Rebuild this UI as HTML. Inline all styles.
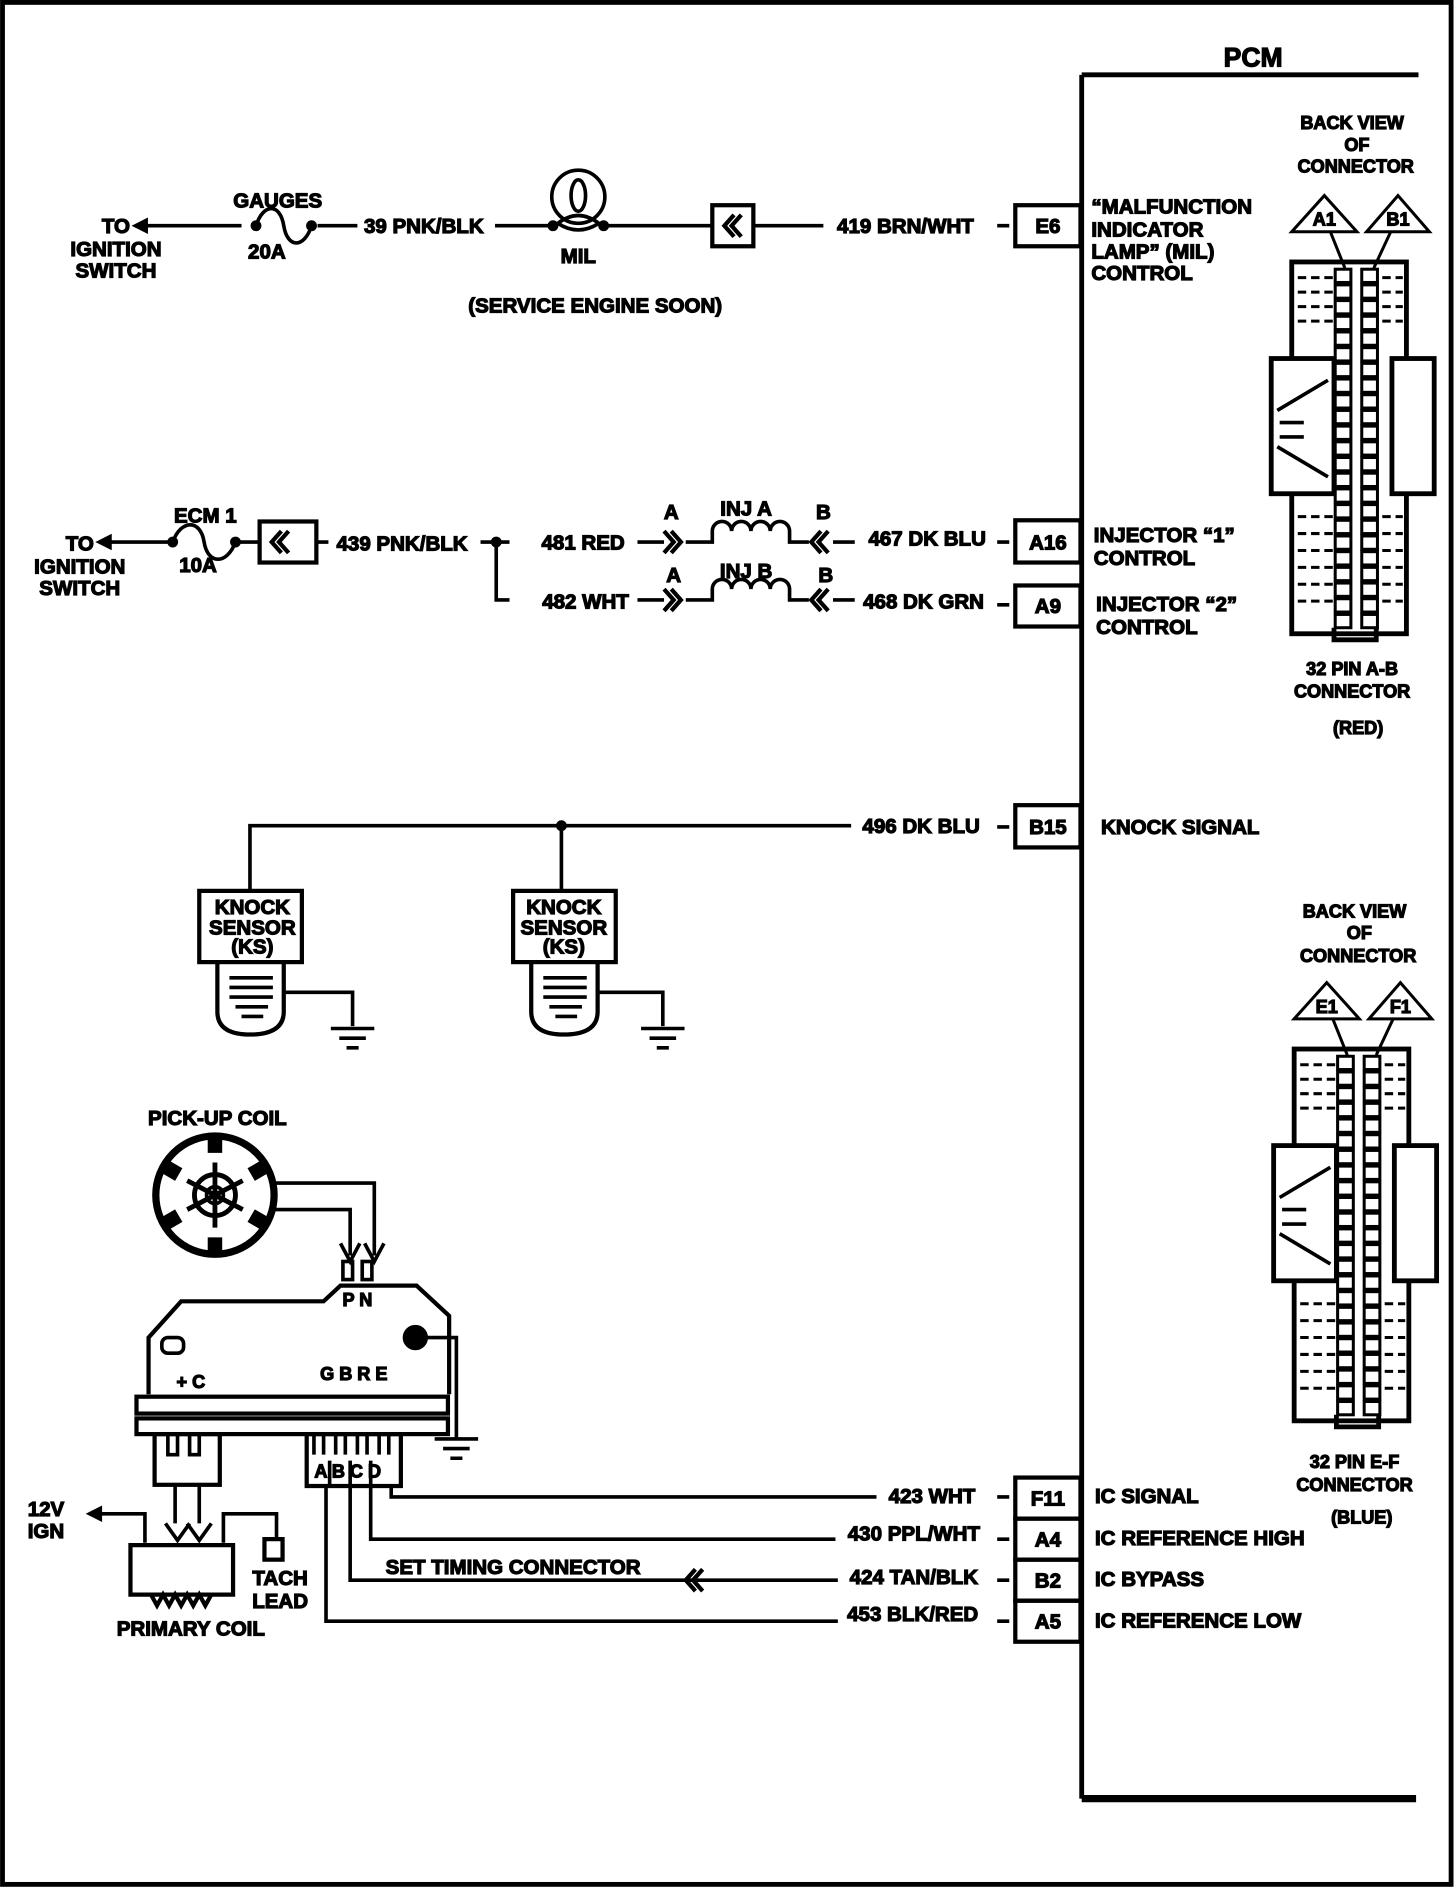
<!DOCTYPE html>
<html><head><meta charset="utf-8"><style>
html,body{margin:0;padding:0;background:#fff}
svg{display:block}
text{font-family:"Liberation Sans Narrow","Liberation Sans",sans-serif;font-weight:bold;fill:#000}
</style></head><body>
<svg width="1456" height="1888" viewBox="0 0 1206 1564" xmlns="http://www.w3.org/2000/svg">
<defs>
<g id="dbl"><path d="M0,-9 L8,0 L0,9 M6,-9 L14,0 L6,9" fill="none" stroke="#000" stroke-width="3.5"/></g>
<g id="dbll"><path d="M14,-9 L6,0 L14,9 M8,-9 L0,0 L8,9" fill="none" stroke="#000" stroke-width="3.5"/></g>
<g id="gnd"><path d="M-18,0 H18 M-11,8 H11 M-5,16 H5" stroke="#000" stroke-width="3"/></g>
</defs>
<rect x="2" y="2" width="1200" height="1559" fill="none" stroke="#000" stroke-width="4"/>
<g stroke="#000" fill="none">
<path d="M896,62 H1175 M896,62 V1490" stroke-width="4"/>
<path d="M896,1490 H1173" stroke-width="6"/>
<g stroke-width="3.5">
<rect x="841" y="170" width="54" height="34"/>
<rect x="841" y="431" width="54" height="35"/>
<rect x="841" y="485" width="54" height="34"/>
<rect x="841" y="667" width="54" height="35"/>
<rect x="841" y="1224" width="54" height="34"/>
<rect x="841" y="1258" width="54" height="34"/>
<rect x="841" y="1292" width="54" height="34"/>
<rect x="841" y="1326" width="54" height="34"/>
</g>
<g stroke-width="3">
<path d="M826,187 H836 M826,449 H836 M826,501 H836 M826,685 H836 M826,1240 H836 M826,1275 H836 M826,1309 H836 M826,1343 H836"/>
<path d="M118,187 H200 M263,187 H296 M410,187 H458 M500,187 H590 M624,187 H682"/>
<path d="M212,187 C218,168 232,168 235,187 C238,206 252,206 258,187"/>
<circle cx="479" cy="163" r="22"/>
<ellipse cx="479" cy="162" rx="6" ry="13"/>
<path d="M462,185 Q479,172 496,185 Q479,196 462,185"/>
<rect x="590" y="170" width="34" height="34" stroke-width="3.5"/>
<path d="M88,449 H143 M195,449 H215 M262,449 H272 M398,449 H422 M411,449 V497 H422 M528,449 H550 M528,497 H550"/>
<path d="M143,449 C150,430 166,430 169,449 C172,468 188,468 195,449"/>
<rect x="215" y="432" width="47" height="34" stroke-width="3.5"/>
<path d="M568,449 H590 V440 A8,8 0 0 1 606,440 A8,8 0 0 1 622,440 A8,8 0 0 1 638,440 A8,8 0 0 1 654,440 V449 H670 M690,449 H708"/>
<path d="M568,497 H590 V488 A8,8 0 0 1 606,488 A8,8 0 0 1 622,488 A8,8 0 0 1 638,488 A8,8 0 0 1 654,488 V497 H670 M690,497 H708"/>
<path d="M207,738 V684 H705 M465,684 V738"/>
<rect x="165" y="738" width="85" height="59" stroke-width="3.5"/>
<rect x="425" y="738" width="85" height="59" stroke-width="3.5"/>
<path d="M180,797 V838 Q180,857 207,857 Q235,857 235,838 V797" stroke-width="3.5"/>
<path d="M440,797 V838 Q440,857 467,857 Q495,857 495,838 V797" stroke-width="3.5"/>
<path d="M190,810 H226 M190,818 H226 M190,826 H226 M195,834 H222 M200,842 H218"/>
<path d="M450,810 H486 M450,818 H486 M450,826 H486 M455,834 H482 M460,842 H478"/>
<path d="M235,822 H292 V850 M495,822 H549 V850"/>
<circle cx="178" cy="990" r="49" stroke-width="6"/>
<g stroke-width="12">
<path d="M178,941 V955 M178,1025 V1039 M136,966 L148,973 M208,1007 L220,1014 M136,1014 L148,1007 M208,973 L220,966"/>
</g>
<circle cx="178" cy="990" r="7"/>
<circle cx="178" cy="990" r="17" stroke-width="4"/>
<path d="M178,963 V1017 M155,978 L201,1002 M155,1002 L201,978" stroke-width="4"/>
<path d="M228,980 H310 V1040 M228,1002 H290 V1040"/>
<path d="M282,1030 L290,1045 L298,1030 M302,1030 L310,1045 L318,1030"/>
<rect x="284" y="1045" width="8" height="15"/><rect x="300" y="1045" width="8" height="15"/>
<path d="M123,1155 V1108 L150,1078 H268 L282,1065 H345 L372,1090 V1155" stroke-width="3.5"/>
<rect x="134" y="1108" width="18" height="13" rx="5"/>
<circle cx="344" cy="1108" r="9" fill="#000"/>
<path d="M353,1108 H378 V1192"/>
<use href="#gnd" x="378" y="1192"/>
<rect x="113" y="1157" width="258" height="14" stroke-width="3.5"/>
<rect x="113" y="1175" width="258" height="13" stroke-width="3.5"/>
<rect x="128" y="1188" width="54" height="42" stroke-width="3.5"/>
<path d="M139,1188 V1205 H147 V1188 M157,1188 V1205 H165 V1188"/>
<rect x="254" y="1188" width="78" height="43" stroke-width="3.5"/>
<path d="M260,1188 V1205 M268,1188 V1205 M278,1188 V1205 M286,1188 V1205 M296,1188 V1205 M304,1188 V1205 M314,1188 V1205 M322,1188 V1205"/>
<path d="M273,1210 V1231 M290,1210 V1231 M307,1210 V1231"/>
<path d="M324,1231 V1240 H726 M307,1231 V1275 H692 M290,1231 V1309 H694 M270,1231 V1343 H694"/>
<path d="M145,1230 V1262 M165,1230 V1262"/>
<path d="M80,1254 H120 V1278 M185,1278 V1254 H229 V1275"/>
<path d="M108,1280 H193 V1321 H108 Z" stroke-width="3.5"/>
<path d="M125,1321 l5,9 l5,-9 l5,9 l5,-9 l5,9 l5,-9 l5,9 l5,-9 l5,9 l5,-9" stroke-width="3.5"/>
<path d="M137,1262 l10,14 l10,-14 M155,1262 l10,14 l10,-14"/>
<rect x="219" y="1275" width="15" height="17" stroke-width="3.5"/>
</g>
<path d="M110,187 L122,181 L122,193 Z" fill="#000"/>
<path d="M80,449 L92,443 L92,455 Z" fill="#000"/>
<path d="M72,1254 L84,1248 L84,1260 Z" fill="#000"/>
<circle cx="212" cy="187" r="4" fill="#000"/><circle cx="258" cy="187" r="4" fill="#000"/>
<circle cx="458" cy="187" r="4" fill="#000"/><circle cx="500" cy="187" r="4" fill="#000"/>
<circle cx="143" cy="449" r="4" fill="#000"/><circle cx="195" cy="449" r="4" fill="#000"/>
<circle cx="411" cy="449" r="4" fill="#000"/><circle cx="465" cy="684" r="4" fill="#000"/>
<use href="#dbll" x="600" y="187"/>
<use href="#dbll" x="225" y="449"/>
<use href="#dbl" x="550" y="449"/><use href="#dbl" x="550" y="497"/>
<use href="#dbll" x="672" y="449"/><use href="#dbll" x="672" y="497"/>
<use href="#dbll" x="568" y="1309"/>
<use href="#gnd" x="292" y="852"/><use href="#gnd" x="549" y="852"/>
<g id="conn1">
<path d="M1097,162 L1070,192 L1124,192 Z M1158,162 L1132,192 L1184,192 Z M1102,192 L1114,222 M1152,192 L1138,222" fill="none" stroke="#000" stroke-width="2.5"/>
<rect x="1070" y="217" width="95" height="308" fill="none" stroke="#000" stroke-width="4"/>
<rect x="1053" y="297" width="52" height="112" fill="#fff" stroke="#000" stroke-width="4"/>
<rect x="1153" y="297" width="35" height="112" fill="#fff" stroke="#000" stroke-width="4"/>
<path d="M1058,340 L1100,315 M1058,370 L1100,395 M1060,350 H1080 M1060,362 H1080" stroke="#000" stroke-width="3" fill="none"/>
<g fill="#fff" stroke="#000" stroke-width="2.5">
<path d="M1075,230 H1105 M1075,242 H1105 M1075,254 H1105 M1075,266 H1105 M1075,428 H1105 M1075,442 H1105 M1075,456 H1105 M1075,470 H1105 M1075,484 H1105 M1075,498 H1105 M1145,230 H1162 M1145,242 H1162 M1145,254 H1162 M1145,266 H1162 M1145,428 H1162 M1145,442 H1162 M1145,456 H1162 M1145,470 H1162 M1145,484 H1162 M1145,498 H1162" stroke-dasharray="7,4"/>
</g>
<g fill="#fff" stroke="#000" stroke-width="2.5">
<rect x="1106" y="223" width="13" height="11"/><rect x="1128" y="223" width="13" height="11"/>
<rect x="1106" y="236" width="13" height="11"/><rect x="1128" y="236" width="13" height="11"/>
<rect x="1106" y="249" width="13" height="11"/><rect x="1128" y="249" width="13" height="11"/>
<rect x="1106" y="262" width="13" height="11"/><rect x="1128" y="262" width="13" height="11"/>
<rect x="1106" y="275" width="13" height="11"/><rect x="1128" y="275" width="13" height="11"/>
<rect x="1106" y="288" width="13" height="11"/><rect x="1128" y="288" width="13" height="11"/>
<rect x="1106" y="301" width="13" height="11"/><rect x="1128" y="301" width="13" height="11"/>
<rect x="1106" y="314" width="13" height="11"/><rect x="1128" y="314" width="13" height="11"/>
<rect x="1106" y="327" width="13" height="11"/><rect x="1128" y="327" width="13" height="11"/>
<rect x="1106" y="340" width="13" height="11"/><rect x="1128" y="340" width="13" height="11"/>
<rect x="1106" y="353" width="13" height="11"/><rect x="1128" y="353" width="13" height="11"/>
<rect x="1106" y="366" width="13" height="11"/><rect x="1128" y="366" width="13" height="11"/>
<rect x="1106" y="379" width="13" height="11"/><rect x="1128" y="379" width="13" height="11"/>
<rect x="1106" y="392" width="13" height="11"/><rect x="1128" y="392" width="13" height="11"/>
<rect x="1106" y="405" width="13" height="11"/><rect x="1128" y="405" width="13" height="11"/>
<rect x="1106" y="418" width="13" height="11"/><rect x="1128" y="418" width="13" height="11"/>
<rect x="1106" y="431" width="13" height="11"/><rect x="1128" y="431" width="13" height="11"/>
<rect x="1106" y="444" width="13" height="11"/><rect x="1128" y="444" width="13" height="11"/>
<rect x="1106" y="457" width="13" height="11"/><rect x="1128" y="457" width="13" height="11"/>
<rect x="1106" y="470" width="13" height="11"/><rect x="1128" y="470" width="13" height="11"/>
<rect x="1106" y="483" width="13" height="11"/><rect x="1128" y="483" width="13" height="11"/>
<rect x="1106" y="496" width="13" height="11"/><rect x="1128" y="496" width="13" height="11"/>
<rect x="1106" y="509" width="13" height="11"/><rect x="1128" y="509" width="13" height="11"/>
</g>
<path d="M1105,520 V530 H1140 V520" fill="none" stroke="#000" stroke-width="4"/>
</g>
<use href="#conn1" x="2" y="652"/>
<g font-size="17">
<text x="1038" y="55" font-size="22" text-anchor="middle">PCM</text>
<text x="1120" y="107" font-size="15" text-anchor="middle">BACK VIEW</text>
<text x="1124" y="125" font-size="15" text-anchor="middle">OF</text>
<text x="1123" y="143" font-size="15" text-anchor="middle">CONNECTOR</text>
<text x="1097" y="187" font-size="15" text-anchor="middle">A1</text>
<text x="1158" y="187" font-size="15" text-anchor="middle">B1</text>
<text x="1120" y="559" font-size="15" text-anchor="middle">32 PIN A-B</text>
<text x="1120" y="578" font-size="15" text-anchor="middle">CONNECTOR</text>
<text x="1125" y="608" font-size="15" text-anchor="middle">(RED)</text>
<text x="1122" y="760" font-size="15" text-anchor="middle">BACK VIEW</text>
<text x="1126" y="778" font-size="15" text-anchor="middle">OF</text>
<text x="1125" y="797" font-size="15" text-anchor="middle">CONNECTOR</text>
<text x="1099" y="839" font-size="15" text-anchor="middle">E1</text>
<text x="1160" y="839" font-size="15" text-anchor="middle">F1</text>
<text x="1122" y="1216" font-size="15" text-anchor="middle">32 PIN E-F</text>
<text x="1122" y="1235" font-size="15" text-anchor="middle">CONNECTOR</text>
<text x="1128" y="1262" font-size="15" text-anchor="middle">(BLUE)</text>
<text x="868" y="193" text-anchor="middle">E6</text>
<text x="868" y="455" text-anchor="middle">A16</text>
<text x="868" y="508" text-anchor="middle">A9</text>
<text x="868" y="691" text-anchor="middle">B15</text>
<text x="868" y="1247" text-anchor="middle">F11</text>
<text x="868" y="1281" text-anchor="middle">A4</text>
<text x="868" y="1315" text-anchor="middle">B2</text>
<text x="868" y="1349" text-anchor="middle">A5</text>
<text x="904" y="177">“MALFUNCTION</text>
<text x="904" y="196">INDICATOR</text>
<text x="904" y="214">LAMP” (MIL)</text>
<text x="904" y="232">CONTROL</text>
<text x="906" y="449">INJECTOR “1”</text>
<text x="906" y="468">CONTROL</text>
<text x="908" y="506">INJECTOR “2”</text>
<text x="908" y="525">CONTROL</text>
<text x="912" y="691">KNOCK SIGNAL</text>
<text x="907" y="1245">IC SIGNAL</text>
<text x="907" y="1280">IC REFERENCE HIGH</text>
<text x="907" y="1314">IC BYPASS</text>
<text x="907" y="1348">IC REFERENCE LOW</text>
<text x="230" y="172" text-anchor="middle">GAUGES</text>
<text x="221" y="214" text-anchor="middle">20A</text>
<text x="96" y="193" text-anchor="middle">TO</text>
<text x="96" y="212" text-anchor="middle">IGNITION</text>
<text x="96" y="230" text-anchor="middle">SWITCH</text>
<text x="351" y="193" text-anchor="middle">39 PNK/BLK</text>
<text x="479" y="218" text-anchor="middle">MIL</text>
<text x="750" y="193" text-anchor="middle">419 BRN/WHT</text>
<text x="493" y="259" text-anchor="middle">(SERVICE ENGINE SOON)</text>
<text x="170" y="433" text-anchor="middle">ECM 1</text>
<text x="164" y="474" text-anchor="middle">10A</text>
<text x="66" y="456" text-anchor="middle">TO</text>
<text x="66" y="475" text-anchor="middle">IGNITION</text>
<text x="66" y="493" text-anchor="middle">SWITCH</text>
<text x="333" y="456" text-anchor="middle">439 PNK/BLK</text>
<text x="483" y="455" text-anchor="middle">481 RED</text>
<text x="485" y="504" text-anchor="middle">482 WHT</text>
<text x="556" y="430" text-anchor="middle">A</text>
<text x="618" y="427" text-anchor="middle">INJ A</text>
<text x="682" y="430" text-anchor="middle">B</text>
<text x="558" y="482" text-anchor="middle">A</text>
<text x="618" y="479" text-anchor="middle">INJ B</text>
<text x="684" y="482" text-anchor="middle">B</text>
<text x="768" y="452" text-anchor="middle">467 DK BLU</text>
<text x="765" y="504" text-anchor="middle">468 DK GRN</text>
<text x="763" y="690" text-anchor="middle">496 DK BLU</text>
<text x="209" y="757" text-anchor="middle">KNOCK</text>
<text x="209" y="774" text-anchor="middle">SENSOR</text>
<text x="209" y="790" text-anchor="middle">(KS)</text>
<text x="467" y="757" text-anchor="middle">KNOCK</text>
<text x="467" y="774" text-anchor="middle">SENSOR</text>
<text x="467" y="790" text-anchor="middle">(KS)</text>
<text x="180" y="932" text-anchor="middle">PICK-UP COIL</text>
<text x="296" y="1082" text-anchor="middle" font-size="15">P N</text>
<text x="158" y="1150" text-anchor="middle" font-size="15">+ C</text>
<text x="293" y="1143" text-anchor="middle" font-size="15">G B R E</text>
<text x="288" y="1224" text-anchor="middle" font-size="15">A B C D</text>
<text x="38" y="1256" text-anchor="middle">12V</text>
<text x="38" y="1274" text-anchor="middle">IGN</text>
<text x="232" y="1313" text-anchor="middle">TACH</text>
<text x="232" y="1332" text-anchor="middle">LEAD</text>
<text x="158" y="1355" text-anchor="middle">PRIMARY COIL</text>
<text x="425" y="1304" text-anchor="middle">SET TIMING CONNECTOR</text>
<text x="772" y="1245" text-anchor="middle">423 WHT</text>
<text x="757" y="1276" text-anchor="middle">430 PPL/WHT</text>
<text x="757" y="1312" text-anchor="middle">424 TAN/BLK</text>
<text x="756" y="1343" text-anchor="middle">453 BLK/RED</text>
</g>
</svg>
</body></html>
